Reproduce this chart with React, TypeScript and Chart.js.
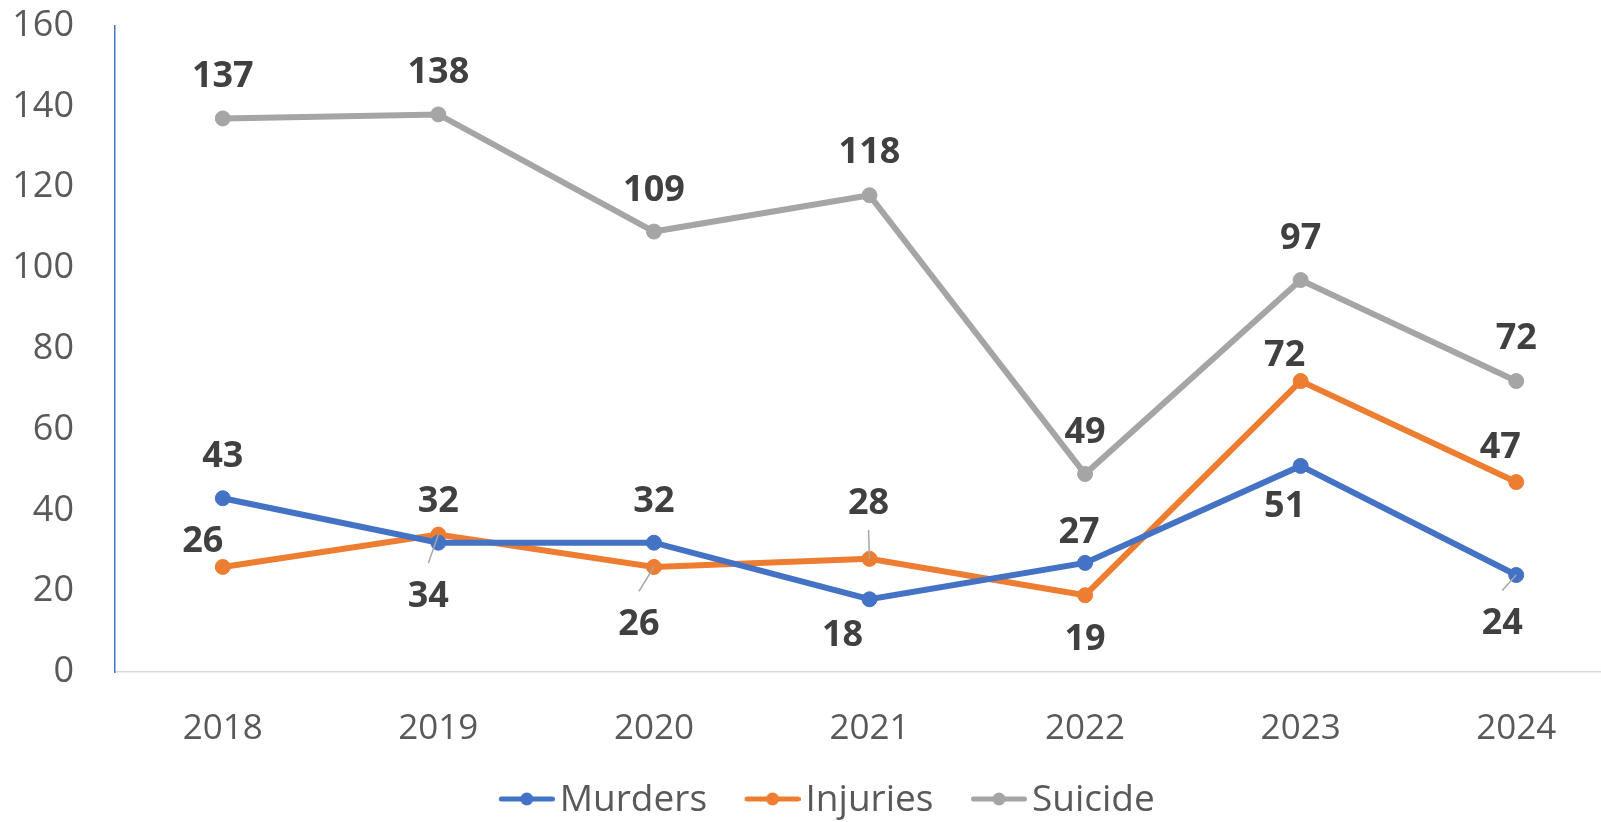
import React, { useEffect, useRef } from "react";
import { Chart, registerables } from "chart.js";

Chart.register(...registerables);

// ---- data ----
const years = ["2018", "2019", "2020", "2021", "2022", "2023", "2024"];
const murders = [43, 32, 32, 18, 27, 51, 24];
const injuries = [26, 34, 26, 28, 19, 72, 47];
const suicide = [137, 138, 109, 118, 49, 97, 72];
const seriesNames = ["Murders", "Injuries", "Suicide"];
const seriesColors = ["#4472C4", "#ED7D31", "#A5A5A5"];
const yMin = 0;
const yMax = 160;
const yStep = 20;

// ---- label placement (offset from point in px, leader flag) ----
const murdersLabelPlacement = [
  [0, -42, 0], [0, -41, 0], [0, -41, 0], [-27, 36, 0], [-6, -30, 0], [-16, 41, 0], [-14, 49, 1],
];
const injuriesLabelPlacement = [
  [-20, -25, 0], [-10, 62, 1], [-15, 58, 1], [-1, -55, 1], [0, 45, 0], [-16, -25, 0], [-16, -34, 0],
];
const suicideLabelPlacement = [
  [0, -42, 0], [0, -42, 0], [0, -41, 0], [0, -42, 0], [0, -41, 0], [0, -41, 0], [0, -42, 0],
];
const placements = [murdersLabelPlacement, injuriesLabelPlacement, suicideLabelPlacement];

function makeMarker(color: string): HTMLCanvasElement {
  const c = document.createElement("canvas");
  c.width = 73;
  c.height = 17;
  const g = c.getContext("2d")!;
  g.strokeStyle = color;
  g.lineWidth = 5;
  g.lineCap = "round";
  g.beginPath();
  g.moveTo(19.5, 7);
  g.lineTo(70.5, 7);
  g.stroke();
  g.fillStyle = color;
  g.beginPath();
  g.arc(45, 7, 6.5, 0, Math.PI * 2);
  g.fill();
  return c;
}

const valueLabelPlugin = {
  id: "valueLabels",
  afterDatasetsDraw(chart: any) {
    const ctx = chart.ctx as CanvasRenderingContext2D;
    ctx.save();
    chart.data.datasets.forEach((ds: any, di: number) => {
      const meta = chart.getDatasetMeta(di);
      const place = placements[di];
      meta.data.forEach((pt: any, i: number) => {
        const [dx, dy, leader] = place[i];
        if (leader) {
          const lx = pt.x + dx;
          const ly = pt.y + dy + (dy > 0 ? -33.5 : 26);
          ctx.strokeStyle = "#A6A6A6";
          ctx.lineWidth = 1.5;
          ctx.beginPath();
          ctx.moveTo(lx, ly);
          ctx.lineTo(pt.x, pt.y);
          ctx.stroke();
        }
      });
    });
    ctx.font = "bold 36px 'Open Sans'";
    ctx.fillStyle = "#404040";
    ctx.textAlign = "center";
    ctx.textBaseline = "middle";
    chart.data.datasets.forEach((ds: any, di: number) => {
      const meta = chart.getDatasetMeta(di);
      const place = placements[di];
      meta.data.forEach((pt: any, i: number) => {
        const [dx, dy] = place[i];
        ctx.fillText(String(ds.data[i]), pt.x + dx, pt.y + dy);
      });
    });
    ctx.restore();
  },
};

export default function App() {
  const ref = useRef<HTMLCanvasElement | null>(null);

  useEffect(() => {
    if (!ref.current) return;
    const markers = seriesColors.map((c) => makeMarker(c));
    const values = [murders, injuries, suicide];
    const chart = new Chart(ref.current, {
      type: "line",
      data: {
        labels: years,
        datasets: values.map((v, i) => ({
          label: seriesNames[i],
          data: v,
          borderColor: seriesColors[i],
          backgroundColor: seriesColors[i],
          pointBackgroundColor: seriesColors[i],
          pointBorderColor: seriesColors[i],
          borderWidth: 6,
          pointRadius: 7.5,
          pointBorderWidth: 1,
          tension: 0,
          fill: false,
        })),
      },
      options: {
        responsive: false,
        animation: false,
        devicePixelRatio: 1,
        layout: { padding: { left: 10, right: 0, top: 25.5, bottom: 3 } },
        plugins: {
          tooltip: { enabled: false },
          legend: {
            position: "bottom",
            labels: {
              usePointStyle: true,
              pointStyleWidth: 46,
              padding: 34,
              color: "#595959",
              font: { family: "'Open Sans'", size: 37 },
              generateLabels: (ch: any) => {
                const items = (Chart.defaults.plugins.legend.labels as any).generateLabels(ch);
                items.forEach((it: any, i: number) => {
                  it.pointStyle = markers[i];
                  it.fontColor = "#595959";
                });
                return items;
              },
            },
          },
        },
        scales: {
          x: {
            offset: true,
            grid: { display: false, drawTicks: false },
            border: { display: true, color: "#D9D9D9", width: 1.5 },
            ticks: {
              font: { family: "'Open Sans'", size: 35 },
              color: "#595959",
              padding: 36,
              maxRotation: 0,
              autoSkip: false,
            },
            afterFit: (s: any) => {
              s.height = 76;
              s.paddingLeft = 0;
              s.paddingRight = 16;
            },
          },
          y: {
            min: yMin,
            max: yMax,
            ticks: {
              stepSize: yStep,
              font: { family: "'Open Sans'", size: 36 },
              color: "#595959",
              padding: 41,
            },
            grid: { display: false, drawTicks: false },
            border: { display: true, color: "#4472C4", width: 1.5 },
            afterFit: (s: any) => {
              s.width = 105;
              s.paddingTop = 0;
              s.paddingBottom = 0;
            },
          },
        },
      },
      plugins: [valueLabelPlugin],
    });
    return () => chart.destroy();
  }, []);

  return (
    <div
      style={{
        position: "fixed",
        left: 0,
        top: 0,
        width: 1601,
        height: 822,
        overflow: "hidden",
        background: "#ffffff",
      }}
    >
      <canvas ref={ref} width={1640} height={832} style={{ display: "block" }} />
    </div>
  );
}
